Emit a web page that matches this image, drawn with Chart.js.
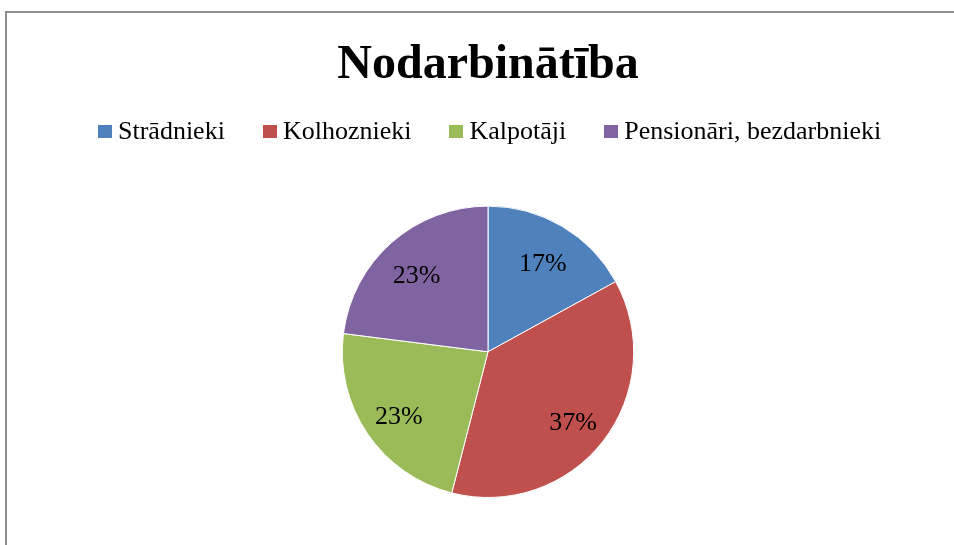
<!DOCTYPE html>
<html>
<head>
<meta charset="utf-8">
<script src="https://cdn.jsdelivr.net/npm/chart.js@4"></script>
<style>
  html, body { margin: 0; padding: 0; background: #fff; overflow: hidden; }
  #frame {
    position: absolute; left: 5px; top: 11px; width: 966px; height: 560px;
    border: 2px solid #8e8e8e; box-sizing: border-box; background: #fff;
  }
  #chart { position: absolute; left: 0; top: 0; }
  #legend {
    position: absolute; left: 91px; top: 103px; white-space: nowrap;
    font-family: "Liberation Serif", "Times New Roman", serif; font-size: 26px; color: #000;
  }
  #legend span.item { display: inline-block; margin-right: 38px; }
  #legend span.item:last-child { margin-right: 0; }
  #legend span.box {
    display: inline-block; width: 14px; height: 13px; margin-right: 6px; vertical-align: 1px;
  }
</style>
</head>
<body>
<div id="frame">
  <canvas id="chart" width="962" height="556"></canvas>
  <div id="legend"></div>
</div>
<script>
const chartTitle = "Nodarbinātība";
const categories = ["Strādnieki", "Kolhoznieki", "Kalpotāji", "Pensionāri, bezdarbnieki"];
const shares = [17, 37, 23, 23];
const sliceColors = ["#4F81BD", "#C0504D", "#9BBB59", "#8064A2"];

// percent labels inside the slices, like the office chart
const sliceLabels = {
  id: "sliceLabels",
  afterDatasetsDraw(chart) {
    const ctx = chart.ctx;
    const meta = chart.getDatasetMeta(0);
    const data = chart.data.datasets[0].data;
    const total = data.reduce((a, b) => a + b, 0);
    ctx.save();
    ctx.font = "26px 'Liberation Serif', 'Times New Roman', serif";
    ctx.fillStyle = "#000";
    ctx.textAlign = "center";
    ctx.textBaseline = "middle";
    meta.data.forEach((arc, i) => {
      const p = arc.getProps(["x", "y", "startAngle", "endAngle", "outerRadius"], true);
      const mid = (p.startAngle + p.endAngle) / 2;
      const r = p.outerRadius * 0.74;
      const txt = Math.round(data[i] / total * 100) + "%";
      ctx.fillText(txt, p.x + Math.cos(mid) * r, p.y + Math.sin(mid) * r + 5);
    });
    ctx.restore();
  }
};

new Chart(document.getElementById("chart"), {
  type: "pie",
  data: {
    labels: categories,
    datasets: [{
      data: shares,
      backgroundColor: sliceColors,
      borderColor: "#ffffff",
      borderWidth: 1
    }]
  },
  options: {
    responsive: false,
    animation: false,
    layout: { padding: { top: 0, bottom: 71, left: 0, right: 0 } },
    plugins: {
      legend: { display: false },
      tooltip: { enabled: false },
      title: {
        display: true,
        text: chartTitle,
        color: "#000",
        font: { family: "'Liberation Serif', 'Times New Roman', serif", size: 48, weight: "bold" },
        padding: { top: 24, bottom: 111 }
      }
    }
  },
  plugins: [sliceLabels]
});

// legend row built from the same arrays
const legendEl = document.getElementById("legend");
categories.forEach((c, i) => {
  const item = document.createElement("span");
  item.className = "item";
  const box = document.createElement("span");
  box.className = "box";
  box.style.background = sliceColors[i];
  item.appendChild(box);
  item.appendChild(document.createTextNode(c));
  legendEl.appendChild(item);
});
</script>
</body>
</html>
